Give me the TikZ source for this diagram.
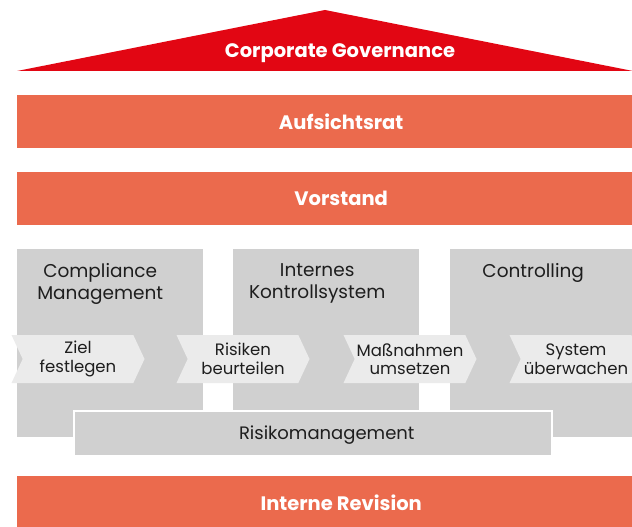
\documentclass[tikz,border=0pt]{standalone}
\usepackage{fontspec}
\setmainfont{Poppins}
\usetikzlibrary{shapes.symbols}
\definecolor{roofred}{HTML}{E20613}
\definecolor{barcoral}{HTML}{EB6A4D}
\definecolor{colgray}{HTML}{D0D0D0}
\definecolor{stepgray}{HTML}{EBEBEB}
\definecolor{darktext}{HTML}{1E1E1E}

\tikzset{
	bar/.style={fill=barcoral, minimum width=648pt, minimum height=53pt, inner sep=0pt, anchor=north west},
	bartext/.style={text=white, font=\bfseries\fontsize{19.5}{22}\selectfont},
	column/.style={fill=colgray, minimum width=186pt, minimum height=188pt, inner sep=0pt, anchor=north west},
	coltext/.style={text=darktext, align=center, anchor=north, font=\fontsize{18.5}{22}\selectfont},
	stepbox/.style={shape=signal, signal to=east, signal from=west, signal pointer angle=130, fill=stepgray,
		minimum width=133pt, minimum height=48pt, inner sep=0pt, text=darktext, align=center,
		font=\fontsize{16.5}{18.5}\selectfont},
}

\begin{document}
\begin{tikzpicture}[x=1pt, y=-1pt]
	\useasboundingbox (0,0) rectangle (632,527);
	\clip (0,0) rectangle (632,527);
	% roof
	\coordinate (eaveL) at (17,71);
	\coordinate (ridge) at (325,10);
	\coordinate (eaveR) at (633,71);
	\fill[roofred] (eaveL) -- (ridge) -- (eaveR) -- cycle;
	\node[bartext] (gov) at (340,53) {Corporate Governance};
	% bars
	\node[bar] (rat) at (17,95) {};	\node[bartext] at (rat.center) {Aufsichtsrat};
	\node[bar] (vor) at (17,172) {};	\node[bartext] at (vor.center) {Vorstand};
	\node[bar, minimum height=51pt] (rev) at (17,476) {};	\node[bartext] at ([yshift=-1pt]rev.center) {Interne Revision};
	% columns
	\node[column] (cm) at (17,249) {};
	\node[column] (iks) at (233,249) {};
	\node[column] (ctr) at (450,249) {};
	\node[coltext] at ([xshift=-10pt, yshift=-11pt]cm.north) {Compliance\\Management};
	\node[coltext] at ([xshift=-9pt, yshift=-11pt]iks.north) {Internes\\Kontrollsystem};
	\node[coltext] at ([xshift=-10pt, yshift=-11pt]ctr.north) {Controlling};
	% process steps
	\foreach \x/\txt [count=\i] in {78/Ziel\\festlegen, 243/Risiken\\beurteilen, 410/Maßnahmen\\umsetzen, 576/System\\überwachen}
		\node[stepbox] (step\i) at (\x,359) {\txt};
	% Risikomanagement
	\node[fill=colgray, draw=white, line width=1.5pt, minimum width=478pt, minimum height=45pt, inner sep=0pt, anchor=north west] (risk) at (73,410) {};
	\node[text=darktext, font=\fontsize{18}{20}\selectfont] at ([xshift=14pt, yshift=-2pt]risk.center) {Risikomanagement};
\end{tikzpicture}
\end{document}
